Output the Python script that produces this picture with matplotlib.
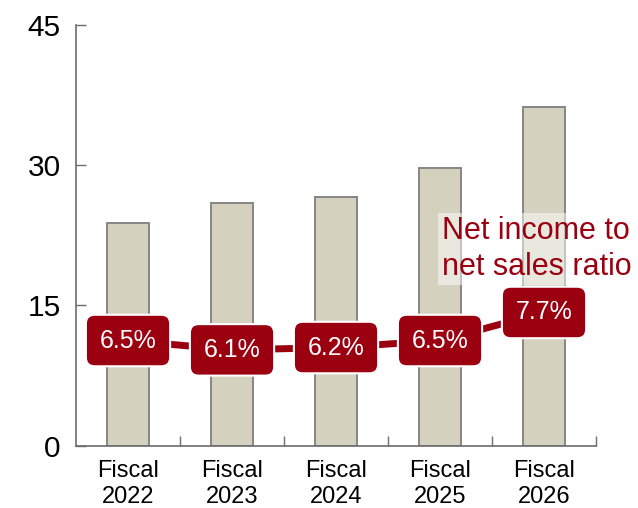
import matplotlib
matplotlib.use("Agg")
import matplotlib.pyplot as plt

plt.rcParams['font.family'] = ['Liberation Sans', 'DejaVu Sans']

categories = ["Fiscal\n2022", "Fiscal\n2023", "Fiscal\n2024", "Fiscal\n2025", "Fiscal\n2026"]
net_income = [23.8, 26.0, 26.6, 29.7, 36.2]
ratio = [6.5, 6.1, 6.2, 6.5, 7.7]
ratio_labels = ["6.5%", "6.1%", "6.2%", "6.5%", "7.7%"]
y_ticks = [0, 15, 30, 45]

RED = "#9b0010"
BAR = "#d4d1be"
AXIS = "#6b6b6b"

fig = plt.figure(figsize=(6.38, 5.08), dpi=100)
ax = fig.add_axes([76 / 638, 1 - 445.7 / 508, 520 / 638, 420.7 / 508])

x = list(range(len(categories)))
ax.bar(x, net_income, width=0.40, color=BAR, edgecolor="#858585", linewidth=1.4, zorder=2)

ax.set_xlim(-0.5, len(categories) - 0.5)
ax.set_ylim(0, 45)
ax.set_yticks(y_ticks)
ax.set_yticklabels([str(t) for t in y_ticks], fontsize=21.5)
ax.tick_params(axis='y', direction='in', length=7.5, width=1.0, color=AXIS, pad=11)

ax.set_xticks(x)
ax.set_xticklabels(categories, fontsize=17, linespacing=1.25)
ax.tick_params(axis='x', which='major', length=0, pad=10)
ax.set_xticks([i + 0.5 for i in x], minor=True)
ax.tick_params(axis='x', which='minor', direction='in', length=7, width=1.0, color=AXIS)

for s in ("top", "right"):
    ax.spines[s].set_visible(False)
for s in ("left", "bottom"):
    ax.spines[s].set_color(AXIS)
    ax.spines[s].set_linewidth(1.2)

# ratio line on a secondary scale
ax2 = ax.twinx()
ax2.set_ylim(2, 20)
ax2.axis("off")
ax2.plot(x, ratio, color=RED, linewidth=5, solid_capstyle="butt", zorder=3)
for xi, v, lab in zip(x, ratio, ratio_labels):
    ax2.text(xi, v, lab, ha="center", va="center", color="white", fontsize=18, zorder=5,
             bbox=dict(boxstyle="round,pad=0.55,rounding_size=0.35", facecolor=RED,
                       edgecolor="white", linewidth=1.5))

fig.text(442 / 638, 1 - 249 / 508, "Net income to\nnet sales ratio", ha="left", va="center",
         color=RED, fontsize=22, linespacing=1.22, zorder=6,
         bbox=dict(boxstyle="square,pad=0.12", facecolor="white", edgecolor="none", alpha=0.5))

fig.savefig("out.png", dpi=100)
